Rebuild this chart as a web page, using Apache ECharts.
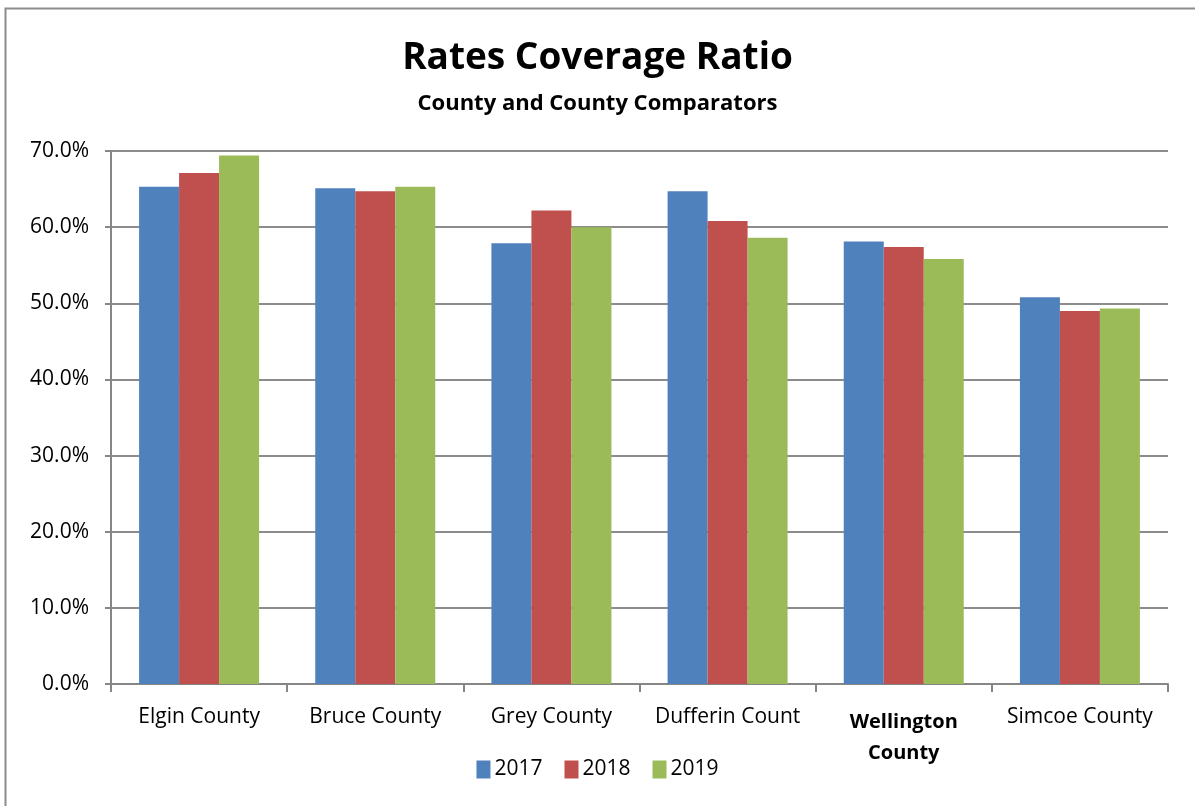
<!DOCTYPE html>
<html>
<head>
<meta charset="utf-8">
<script src="https://cdn.jsdelivr.net/npm/echarts@6/dist/echarts.min.js"></script>
<style>
html,body{margin:0;padding:0;background:#fff;}
#c{width:1195px;height:806px;}
</style>
</head>
<body>
<div id="c"></div>
<script>
const categories = ["Elgin County", "Bruce County", "Grey County", "Dufferin County", "Wellington County", "Simcoe County"];
const years = ["2017", "2018", "2019"];
const values2017 = [65.3, 65.1, 57.9, 64.7, 58.1, 50.8];
const values2018 = [67.1, 64.7, 62.2, 60.8, 57.4, 49.0];
const values2019 = [69.4, 65.3, 60.0, 58.6, 55.8, 49.3];
const colors = ["#4F81BD", "#C0504D", "#9BBB59"];
const FONT = "'Open Sans', 'Noto Sans', sans-serif";

const chart = echarts.init(document.getElementById('c'));
const seriesData = [values2017, values2018, values2019];
chart.setOption({
  animation: false,
  backgroundColor: '#fff',
  graphic: [{
    type: 'rect', left: 3, top: 6, shape: {width: 1300, height: 900},
    style: {fill: 'none', stroke: '#8c8c8c', lineWidth: 2}, silent: true, z: -1
  }],
  title: {
    text: 'Rates Coverage Ratio',
    subtext: 'County and County Comparators',
    left: 'center', top: 35, itemGap: 16,
    textStyle: {fontFamily: FONT, fontWeight: 'bold', fontSize: 37, color: '#000'},
    subtextStyle: {fontFamily: FONT, fontWeight: 'bold', fontSize: 22, color: '#000'}
  },
  legend: {
    data: years, bottom: 21, left: 'center',
    icon: 'rect', itemWidth: 14, itemHeight: 18, itemGap: 22,
    textStyle: {fontFamily: FONT, fontSize: 21, color: '#000', padding: [0, 0, 0, -1]}
  },
  grid: {left: 111, right: 27, top: 151, bottom: 122},
  xAxis: {
    type: 'category', data: categories,
    axisLine: {lineStyle: {color: '#868686', width: 2}},
    axisTick: {show: true, alignWithLabel: false, length: 8, lineStyle: {color: '#868686', width: 2}},
    axisLabel: {
      interval: 0, margin: 23, fontFamily: FONT, fontSize: 21, color: '#000',
      width: 150, overflow: 'truncate', ellipsis: '',
      formatter: function (v) {
        if (v === 'Wellington County') return '{b|Wellington}\n{b|County}';
        return v;
      },
      rich: {b: {fontFamily: FONT, fontSize: 20, fontWeight: 'bold', color: '#000', lineHeight: 31}}
    }
  },
  yAxis: {
    type: 'value', min: 0, max: 70, interval: 10,
    axisLine: {show: true, lineStyle: {color: '#868686', width: 2}},
    axisTick: {show: true, length: 6, lineStyle: {color: '#868686', width: 2}},
    splitLine: {lineStyle: {color: '#8c8c8c', width: 2}},
    axisLabel: {margin: 22, fontFamily: FONT, fontSize: 21, color: '#000',
      formatter: function (v) { return v.toFixed(1) + '%'; }}
  },
  series: years.map((y, i) => ({
    name: y, type: 'bar', data: seriesData[i],
    barWidth: 40, barGap: '0%',
    itemStyle: {color: colors[i]}
  }))
});
</script>
</body>
</html>
